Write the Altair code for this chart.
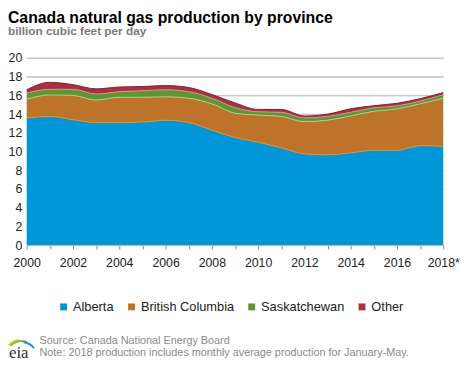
import altair as alt
import pandas as pd

years = list(range(2000, 2019))
alberta = [13.6, 13.75, 13.4, 13.1, 13.1, 13.15, 13.35, 13.1, 12.3, 11.5,
           11.0, 10.4, 9.75, 9.65, 9.86, 10.14, 10.14, 10.63, 10.56]
british_columbia = [2.0, 2.3, 2.6, 2.4, 2.7, 2.65, 2.5, 2.6, 2.8, 2.6,
                    2.9, 3.35, 3.45, 3.7, 3.95, 4.16, 4.42, 4.47, 5.14]
saskatchewan = [0.65, 0.6, 0.65, 0.65, 0.6, 0.7, 0.75, 0.7, 0.6, 0.6,
                0.35, 0.45, 0.4, 0.4, 0.38, 0.37, 0.32, 0.3, 0.37]
other = [0.35, 0.75, 0.5, 0.55, 0.5, 0.45, 0.45, 0.45, 0.4, 0.5,
         0.25, 0.3, 0.2, 0.25, 0.38, 0.23, 0.28, 0.25, 0.23]
y_ticks = list(range(0, 21, 2))

provinces = ["Alberta", "British Columbia", "Saskatchewan", "Other"]
fill_colors = ["#0096D7", "#BD732A", "#5D9732", "#A33340"]
edge_colors = ["#F58A1F", "#A9CF8B", "#E08A9A", "#8C1C2B"]

title_text = "Canada natural gas production by province"
subtitle_text = "billion cubic feet per day"
source_text = "Source: Canada National Energy Board"
note_text = "Note: 2018 production includes monthly average production for January-May."

rows = []
for i, (name, vals) in enumerate(zip(provinces, [alberta, british_columbia, saskatchewan, other])):
    for y, v in zip(years, vals):
        rows.append({"year": y, "province": name, "value": v, "order": i})
df = pd.DataFrame(rows)

FONT = "Liberation Sans"

y_scale = alt.Scale(domain=[0, 20], nice=False)
y_axis = alt.Axis(
    values=y_ticks, tickCount=40, format="d", title=None, domain=False,
    ticks=False, grid=True, gridColor="#c4c4c4", gridWidth=1, labelPadding=5,
    labelFontSize=12.5, labelColor="#222222", labelFont=FONT, labelOverlap=False,
)

x_enc = alt.X(
    "year:Q",
    scale=alt.Scale(domain=[2000, 2018], nice=False, zero=False),
    axis=alt.Axis(
        values=years, tickCount=40,
        labelExpr="datum.value % 2 == 0 ? (datum.value == 2018 ? '2018*' : datum.value + '') : ''",
        title=None, grid=False, ticks=True, tickSize=4, tickColor="#888888",
        tickWidth=1, domainColor="#aaaaaa", labelPadding=8, labelFontSize=12.5,
        labelColor="#222222", labelFont=FONT, labelFlush=False,
        labelOverlap=False,
    ),
)

grid = alt.Chart(pd.DataFrame({"v": y_ticks})).mark_rule(
    color="#c4c4c4", strokeWidth=1
).encode(y=alt.Y("v:Q", scale=y_scale))

areas = alt.Chart(df).mark_area(interpolate="monotone").encode(
    x=x_enc,
    y=alt.Y("value:Q", stack="zero", scale=y_scale, axis=y_axis),
    color=alt.Color(
        "province:N",
        scale=alt.Scale(domain=provinces, range=fill_colors),
        legend=alt.Legend(
            title=None, orient="none", direction="horizontal",
            legendX=31, legendY=246, symbolType="square", symbolSize=49,
            symbolStrokeWidth=0, labelFontSize=13, labelFont=FONT,
            labelColor="#222222", columnPadding=11, labelOffset=3,
            labelExpr="datum.label == 'British Columbia' ? datum.label + '  ' : datum.label",
        ),
    ),
    order=alt.Order("order:Q"),
)

edges = alt.Chart(df).mark_line(interpolate="monotone", strokeWidth=1).encode(
    x=alt.X("year:Q"),
    y=alt.Y("value:Q", stack="zero"),
    detail="province:N",
    stroke=alt.Stroke(
        "province:N",
        scale=alt.Scale(domain=provinces, range=edge_colors),
        legend=None,
    ),
    order=alt.Order("order:Q"),
)

def label(text, x, y, size, color, weight="normal", font=FONT):
    return alt.Chart(pd.DataFrame({"t": [text]})).mark_text(
        align="left", baseline="middle", fontSize=size, color=color,
        fontWeight=weight, font=font,
    ).encode(x=alt.value(x), y=alt.value(y), text="t:N")

def swoosh(r_in, r_out, t1, t2, color):
    return alt.Chart(pd.DataFrame({"c": [0]})).mark_arc(
        color=color, radius=r_out, radius2=r_in, theta=t1, theta2=t2,
    ).encode(x=alt.value(-5), y=alt.value(304))

title = label(title_text, -19, -41, 16, "#000000", "bold")
subtitle = label(subtitle_text, -19, -27, 12, "#7a7a7a", "bold")
source = label(source_text, 13, 287, 11, "#8a8a8a")
note = label(note_text, 13, 300, 11, "#8a8a8a")
logo = label("eia", -18, 300, 17, "#333333", "normal", "Liberation Serif")
arc_y = swoosh(17.5, 19, 5.45, 6.1, "#F2C21A")
arc_g = swoosh(15.5, 17.5, 5.5, 6.6, "#7DBB42")
arc_b = swoosh(14.5, 16.5, 6.4, 7.2, "#1C8FD0")

chart = alt.layer(
    grid, areas, edges, title, subtitle, source, note, arc_y, arc_g, arc_b, logo
).resolve_scale(
    color="independent", stroke="independent"
).properties(
    width=423, height=190,
    autosize=alt.AutoSizeParams(type="none"),
    padding={"left": 19, "top": 48, "right": 17, "bottom": 120},
).configure_view(stroke=None)

chart.save("out.html", embed_options={"renderer": "svg", "actions": False})
